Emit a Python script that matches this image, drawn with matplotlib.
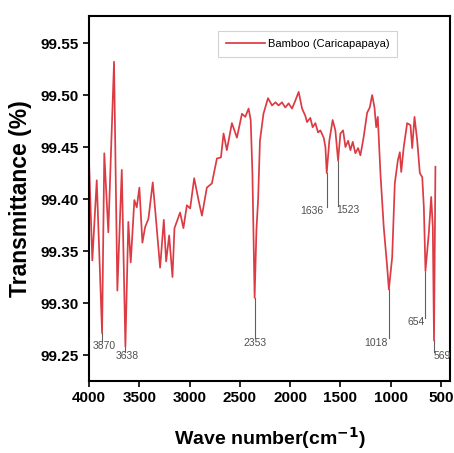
import matplotlib
matplotlib.use("Agg")
import matplotlib.pyplot as plt
import numpy as np

plt.rcParams['font.family'] = ['Liberation Sans', 'DejaVu Sans']

wavenumber = [4000, 3967, 3923, 3870, 3848, 3808, 3751, 3718, 3674, 3638,
              3609, 3585, 3549, 3525, 3499, 3469, 3442, 3409, 3366, 3336,
              3293, 3256, 3233, 3203, 3170, 3150, 3094, 3061, 3027, 2994,
              2954, 2911, 2877, 2828, 2778, 2728, 2688, 2662, 2629, 2579,
              2529, 2479, 2446, 2413, 2392, 2375, 2353, 2335, 2318, 2300,
              2265, 2220, 2180, 2145, 2115, 2081, 2048, 2015, 1981, 1955,
              1915, 1881, 1849, 1832, 1799, 1776, 1749, 1722, 1699, 1666,
              1649, 1636, 1610, 1577, 1550, 1523, 1500, 1473, 1450, 1423,
              1400, 1377, 1351, 1324, 1301, 1268, 1234, 1208, 1184, 1161,
              1144, 1128, 1102, 1069, 1035, 1018, 985, 959, 929, 909,
              895, 870, 836, 803, 786, 763, 736, 710, 686, 670,
              654, 621, 597, 581, 569, 555]
transmittance = [99.437, 99.341, 99.418, 99.271, 99.444, 99.368, 99.532, 99.312, 99.428, 99.258,
                 99.378, 99.339, 99.399, 99.392, 99.411, 99.358, 99.373, 99.381, 99.416, 99.383,
                 99.334, 99.380, 99.340, 99.365, 99.325, 99.372, 99.387, 99.372, 99.394, 99.391,
                 99.420, 99.399, 99.384, 99.411, 99.415, 99.439, 99.440, 99.463, 99.447, 99.473,
                 99.459, 99.482, 99.479, 99.487, 99.476, 99.425, 99.305, 99.370, 99.400, 99.456,
                 99.482, 99.497, 99.490, 99.493, 99.490, 99.493, 99.488, 99.492, 99.487, 99.493,
                 99.503, 99.487, 99.480, 99.474, 99.478, 99.469, 99.473, 99.464, 99.466, 99.459,
                 99.450, 99.425, 99.456, 99.476, 99.466, 99.437, 99.463, 99.466, 99.450, 99.456,
                 99.447, 99.455, 99.444, 99.449, 99.442, 99.460, 99.483, 99.488, 99.500, 99.488,
                 99.469, 99.479, 99.425, 99.373, 99.335, 99.313, 99.344, 99.415, 99.437, 99.445,
                 99.426, 99.450, 99.473, 99.471, 99.449, 99.479, 99.456, 99.425, 99.421, 99.392,
                 99.331, 99.367, 99.402, 99.373, 99.264, 99.431]

peak_labels = ['3870', '3638', '2353', '1636', '1523', '1018', '654', '569']
peak_positions = [3870, 3638, 2353, 1636, 1523, 1018, 654, 569]
peak_label_y = [99.259, 99.249, 99.262, 99.388, 99.389, 99.262, 99.282, 99.249]
peak_label_dx = [-20, -20, 0, 150, -100, 130, 90, -80]

x_ticks = [4000, 3500, 3000, 2500, 2000, 1500, 1000, 500]
y_ticks = [99.25, 99.30, 99.35, 99.40, 99.45, 99.50, 99.55]

fig = plt.figure(figsize=(4.54, 4.53), dpi=100)
ax = fig.add_axes([89/454, 1-381/453, (450-89)/454, (381-16)/453])

ax.plot(wavenumber, transmittance, color='#dc3b44', lw=1.25, label='Bamboo (Caricapapaya)')

wn = np.array(wavenumber)
tr = np.array(transmittance)
for lab, pos, ly, dx in zip(peak_labels, peak_positions, peak_label_y, peak_label_dx):
    ymin = tr[np.argmin(np.abs(wn - pos))]
    ax.plot([pos, pos], [ymin, ly + 0.004], color='#606060', lw=0.8, zorder=1)
    ax.text(pos + dx, ly, lab, fontsize=7.5, color='#505050', ha='center', va='center',
            clip_on=True)

ax.set_xlim(4000, 410)
ax.set_ylim(99.225, 99.576)
ax.set_xticks(x_ticks)
ax.set_yticks(y_ticks)
ax.set_yticklabels([f'{v:.2f}' for v in y_ticks])
ax.tick_params(direction='out', length=4, width=1.2, labelsize=11)
for t in ax.get_xticklabels() + ax.get_yticklabels():
    t.set_fontweight('bold')
for s in ax.spines.values():
    s.set_linewidth(1.5)

ax.set_xlabel('Wave number(cm$^{\\mathbf{-1}}$)', fontsize=14, fontweight='bold', labelpad=14)
ax.set_ylabel('Transmittance (%)', fontsize=16.5, fontweight='bold', labelpad=6)

leg = ax.legend(loc='upper left', bbox_to_anchor=((218-89)/361, 1-(31-16)/365), fontsize=8,
                frameon=True, fancybox=False, edgecolor='#c8c8c8', borderpad=0.7,
                handlelength=3.5, handletextpad=0.3, borderaxespad=0)
leg.get_frame().set_linewidth(0.8)

fig.savefig('out.png', dpi=100)
